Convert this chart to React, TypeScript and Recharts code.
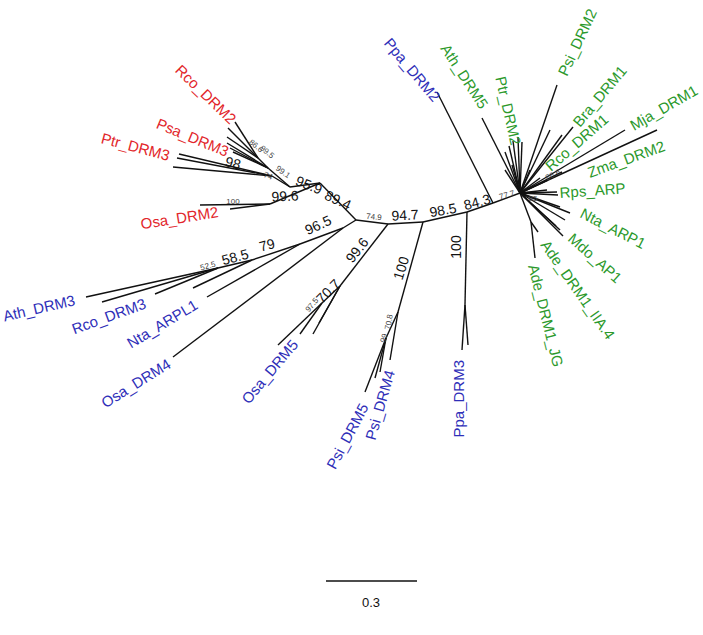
import { ScatterChart, Scatter, XAxis, YAxis, ReferenceLine } from "recharts";

// tree nodes in layout units, origin at the green star (y up)
const nodes = [
  { id: "G", x: 0, y: 0 },
  { id: "N4", x: -27, y: -10 },
  { id: "N3", x: -53, y: -19 },
  { id: "N2", x: -97, y: -29 },
  { id: "N1", x: -132, y: -31 },
  { id: "N0", x: -164, y: -27 },
  // blue middle clades
  { id: "ppa2", x: -83, y: 101 },
  { id: "P3", x: -55, y: -112 },
  { id: "p3a", x: -58, y: -157 },
  { id: "p3b", x: -52, y: -152 },
  { id: "S1", x: -122, y: -119 },
  { id: "S2", x: -134, y: -145 },
  { id: "s2a", x: -155, y: -199 },
  { id: "s2b", x: -145, y: -185 },
  { id: "s2c", x: -140, y: -179 },
  { id: "s1a", x: -130, y: -167 },
  { id: "O5", x: -180, y: -93 },
  { id: "O5a", x: -198, y: -110 },
  { id: "o5a1", x: -242, y: -152 },
  { id: "o5a2", x: -220, y: -141 },
  { id: "o5b", x: -207, y: -141 },
  { id: "o5c", x: -201, y: -130 },
  // blue left clade
  { id: "B1", x: -177, y: -35 },
  { id: "osa4", x: -347, y: -164 },
  { id: "B2", x: -220, y: -51 },
  { id: "nta", x: -313, y: -104 },
  { id: "B3", x: -268, y: -67 },
  { id: "b3a", x: -327, y: -95 },
  { id: "B4", x: -302, y: -75 },
  { id: "b4a", x: -434, y: -104 },
  { id: "b4b", x: -418, y: -109 },
  { id: "b4c", x: -365, y: -101 },
  // red clade
  { id: "R1", x: -200, y: 10 },
  { id: "O2", x: -250, y: -11 },
  { id: "o2a", x: -320, y: -12 },
  { id: "o2b", x: -290, y: -16 },
  { id: "R2", x: -230, y: 6 },
  { id: "R3", x: -248, y: 17 },
  { id: "r3a", x: -347, y: 26 },
  { id: "r3b", x: -343, y: 35 },
  { id: "r3c", x: -341, y: 39 },
  { id: "R4", x: -252, y: 25 },
  { id: "R5", x: -262, y: 35 },
  { id: "r5a", x: -285, y: 71 },
  { id: "r5b", x: -292, y: 65 },
  { id: "r5c", x: -293, y: 56 },
  { id: "r4a", x: -293, y: 50 },
  { id: "r4b", x: -290, y: 45 },
  { id: "r4c", x: -287, y: 41 },
  // green star
  { id: "g_ath5", x: -38, y: 75 },
  { id: "g_ptr1", x: -15, y: 41 },
  { id: "g_ptr2", x: -11, y: 47 },
  { id: "g_ptr3", x: -7, y: 52 },
  { id: "g_ptr4", x: -2, y: 56 },
  { id: "g_ptr5", x: 2, y: 51 },
  { id: "g_psi2", x: 37, y: 108 },
  { id: "g_x1", x: 30, y: 63 },
  { id: "g_x2", x: 42, y: 58 },
  { id: "g_bra", x: 53, y: 66 },
  { id: "g_rco", x: 105, y: 63 },
  { id: "g_mja", x: 137, y: 63 },
  { id: "g_zma1", x: 42, y: 21 },
  { id: "g_zma2", x: 28, y: 13 },
  { id: "g_rps1", x: 27, y: 3 },
  { id: "g_rps2", x: 37, y: 1 },
  { id: "g_n1", x: 38, y: -2 },
  { id: "g_n2", x: 40, y: -14 },
  { id: "g_n3", x: 50, y: -20 },
  { id: "g_n4", x: 45, y: -27 },
  { id: "g_m1", x: 36, y: -33 },
  { id: "g_m2", x: 40, y: -37 },
  { id: "g_m3", x: 43, y: -43 },
  { id: "GA", x: 11, y: -29 },
  { id: "g_ade1", x: 15, y: -65 },
  { id: "g_ade2", x: 18, y: -39 },
  { id: "g_s1", x: -15, y: 23 },
  { id: "g_s2", x: -8, y: 28 },
  { id: "g_s3", x: 10, y: 23 },
  { id: "g_s4", x: 20, y: 15 },
];

const edges = [
  ["G", "N4"], ["N4", "N3"], ["N3", "N2"], ["N2", "N1"], ["N1", "N0"],
  ["N4", "ppa2"],
  ["N3", "P3"], ["P3", "p3a"], ["P3", "p3b"],
  ["N2", "S1"], ["S1", "S2"], ["S2", "s2a"], ["S2", "s2b"], ["S2", "s2c"], ["S1", "s1a"],
  ["N1", "O5"], ["O5", "O5a"], ["O5a", "o5a1"], ["O5a", "o5a2"], ["O5", "o5b"], ["O5", "o5c"],
  ["N0", "B1"], ["B1", "osa4"], ["B1", "B2"], ["B2", "nta"], ["B2", "B3"], ["B3", "b3a"],
  ["B3", "B4"], ["B4", "b4a"], ["B4", "b4b"], ["B4", "b4c"],
  ["N0", "R1"], ["R1", "O2"], ["O2", "o2a"], ["O2", "o2b"], ["R1", "R2"],
  ["R2", "R3"], ["R3", "r3a"], ["R3", "r3b"], ["R3", "r3c"],
  ["R2", "R4"], ["R4", "R5"], ["R5", "r5a"], ["R5", "r5b"], ["R5", "r5c"],
  ["R4", "r4a"], ["R4", "r4b"], ["R4", "r4c"],
  ["G", "g_ath5"], ["G", "g_ptr1"], ["G", "g_ptr2"], ["G", "g_ptr3"], ["G", "g_ptr4"], ["G", "g_ptr5"],
  ["G", "g_psi2"], ["G", "g_x1"], ["G", "g_x2"], ["G", "g_bra"], ["G", "g_rco"], ["G", "g_mja"],
  ["G", "g_zma1"], ["G", "g_zma2"], ["G", "g_rps1"], ["G", "g_rps2"],
  ["G", "g_n1"], ["G", "g_n2"], ["G", "g_n3"], ["G", "g_n4"],
  ["G", "g_m1"], ["G", "g_m2"], ["G", "g_m3"],
  ["G", "GA"], ["GA", "g_ade1"], ["GA", "g_ade2"],
  ["G", "g_s1"], ["G", "g_s2"], ["G", "g_s3"], ["G", "g_s4"],
];

const leafLabels = [
  { name: "Rco_DRM2", x: -290, y: 68, angle: 44, anchor: "end", clade: "red" },
  { name: "Psa_DRM3", x: -294, y: 36, angle: 22.5, anchor: "end", clade: "red" },
  { name: "Ptr_DRM3", x: -352, y: 32, angle: 15, anchor: "end", clade: "red" },
  { name: "Osa_DRM2", x: -301, y: -24, angle: -9, anchor: "end", clade: "red" },
  { name: "Ath_DRM3", x: -444, y: -112, angle: -13, anchor: "end", clade: "blue" },
  { name: "Rco_DRM3", x: -373, y: -115, angle: -20, anchor: "end", clade: "blue" },
  { name: "Nta_ARPL1", x: -321, y: -115, angle: -31, anchor: "end", clade: "blue" },
  { name: "Osa_DRM4", x: -348, y: -174, angle: -32, anchor: "end", clade: "blue" },
  { name: "Osa_DRM5", x: -221, y: -152, angle: -50, anchor: "end", clade: "blue" },
  { name: "Psi_DRM5", x: -151, y: -214, angle: -62, anchor: "end", clade: "blue" },
  { name: "Psi_DRM4", x: -125, y: -179, angle: -74, anchor: "end", clade: "blue" },
  { name: "Ppa_DRM3", x: -56, y: -167, angle: -90, anchor: "end", clade: "blue" },
  { name: "Ppa_DRM2", x: -87, y: 90, angle: 50, anchor: "end", clade: "blue" },
  { name: "Ath_DRM5", x: -40, y: 83, angle: 57, anchor: "end", clade: "green" },
  { name: "Ptr_DRM2", x: -9, y: 47, angle: 77, anchor: "end", clade: "green" },
  { name: "Psi_DRM2", x: 47, y: 116, angle: -65, anchor: "start", clade: "green" },
  { name: "Bra_DRM1", x: 60, y: 65, angle: -50, anchor: "start", clade: "green" },
  { name: "Rco_DRM1", x: 31, y: 21, angle: -41, anchor: "start", clade: "green" },
  { name: "Mja_DRM1", x: 114, y: 62, angle: -30, anchor: "start", clade: "green" },
  { name: "Zma_DRM2", x: 70, y: 15, angle: -20, anchor: "start", clade: "green" },
  { name: "Rps_ARP", x: 40, y: -5, angle: -4, anchor: "start", clade: "green" },
  { name: "Nta_ARP1", x: 59, y: -24, angle: 27, anchor: "start", clade: "green" },
  { name: "Mdo_AP1", x: 47, y: -47, angle: 42, anchor: "start", clade: "green" },
  { name: "Ade_DRM1_IIA.4", x: 20, y: -52, angle: 55, anchor: "start", clade: "green" },
  { name: "Ade_DRM1_JG", x: 8, y: -73, angle: 76, anchor: "start", clade: "green" },
];

const supportValues = [
  { value: "98", x: -287, y: 30, angle: 15, small: false },
  { value: "95.9", x: -211, y: 8, angle: 22, small: false },
  { value: "89.4", x: -182, y: -7, angle: 25, small: false },
  { value: "99.6", x: -235, y: -3, angle: -3, small: false },
  { value: "74", x: -252, y: 17, angle: 20, small: true },
  { value: "99.1", x: -237, y: 21, angle: 35, small: true },
  { value: "86.6", x: -264, y: 47, angle: 40, small: true },
  { value: "99.5", x: -253, y: 41, angle: 40, small: true },
  { value: "100", x: -287, y: -8, angle: 0, small: true },
  { value: "96.5", x: -202, y: -32, angle: -25, small: false },
  { value: "79", x: -253, y: -52, angle: -15, small: false },
  { value: "58.5", x: -285, y: -64, angle: -15, small: false },
  { value: "52.5", x: -312, y: -73, angle: -15, small: true },
  { value: "74.9", x: -146, y: -24, angle: 5, small: true },
  { value: "94.7", x: -115, y: -22, angle: -3, small: false },
  { value: "98.5", x: -77, y: -17, angle: -10, small: false },
  { value: "84.3", x: -43, y: -9, angle: -15, small: false },
  { value: "77.7", x: -13, y: -2, angle: -15, small: true },
  { value: "99.6", x: -163, y: -57, angle: -52, small: false },
  { value: "70.7", x: -192, y: -98, angle: -45, small: false },
  { value: "97.5", x: -208, y: -112, angle: -50, small: true },
  { value: "100", x: -119, y: -75, angle: -73, small: false },
  { value: "100", x: -64, y: -54, angle: -90, small: false },
  { value: "70.8", x: -131, y: -129, angle: -80, small: true },
  { value: "99", x: -136, y: -145, angle: -75, small: true },
  { value: "86.6", x: 33, y: 18, angle: -25, small: true },
  { value: "85", x: 13, y: -5, angle: 0, small: true },
];

// scale bar: 0.3 substitutions per site
const scaleBar = [
  { x: -194, y: -388 },
  { x: -103, y: -388 },
];
const scaleLabel = [{ value: "0.3", x: -149, y: -409 }];

const cladeColor: Record<string, string> = {
  red: "#e2262b",
  blue: "#2e2eb8",
  green: "#2b992b",
};

const font = "'Liberation Sans', Arial, sans-serif";

const byId: Record<string, { x: number; y: number }> = {};
nodes.forEach((n) => (byId[n.id] = n));

export default function App() {
  return (
    <div style={{ position: "absolute", left: 0, top: 0, background: "#fff" }}>
      <ScatterChart width={703} height={635} margin={{ top: 0, right: 0, bottom: 0, left: 0 }}>
        <XAxis type="number" dataKey="x" domain={[-520, 183]} hide />
        <YAxis type="number" dataKey="y" domain={[-442, 193]} hide />
        {edges.map(([a, b], i) => (
          <ReferenceLine
            key={"e" + i}
            segment={[
              { x: byId[a].x, y: byId[a].y },
              { x: byId[b].x, y: byId[b].y },
            ]}
            stroke="#111"
            strokeWidth={1.4}
            ifOverflow="visible"
          />
        ))}
        <ReferenceLine
          segment={scaleBar}
          stroke="#111"
          strokeWidth={1.4}
          ifOverflow="visible"
        />
        <Scatter
          data={supportValues}
          isAnimationActive={false}
          shape={(p: any) => (
            <text
              x={p.cx}
              y={p.cy}
              transform={`rotate(${p.payload.angle} ${p.cx} ${p.cy})`}
              textAnchor="middle"
              dominantBaseline="central"
              fontFamily={font}
              fontSize={p.payload.small ? 8 : 14}
              fill={p.payload.small ? "#444" : "#111"}
            >
              {p.payload.value}
            </text>
          )}
        />
        <Scatter
          data={leafLabels}
          isAnimationActive={false}
          shape={(p: any) => (
            <text
              x={p.cx}
              y={p.cy}
              transform={`rotate(${p.payload.angle} ${p.cx} ${p.cy})`}
              textAnchor={p.payload.anchor}
              fontFamily={font}
              fontSize={15}
              fill={cladeColor[p.payload.clade]}
            >
              {p.payload.name}
            </text>
          )}
        />
        <Scatter
          data={scaleLabel}
          isAnimationActive={false}
          shape={(p: any) => (
            <text
              x={p.cx}
              y={p.cy}
              textAnchor="middle"
              dominantBaseline="central"
              fontFamily={font}
              fontSize={13}
              fill="#111"
            >
              {p.payload.value}
            </text>
          )}
        />
      </ScatterChart>
    </div>
  );
}
